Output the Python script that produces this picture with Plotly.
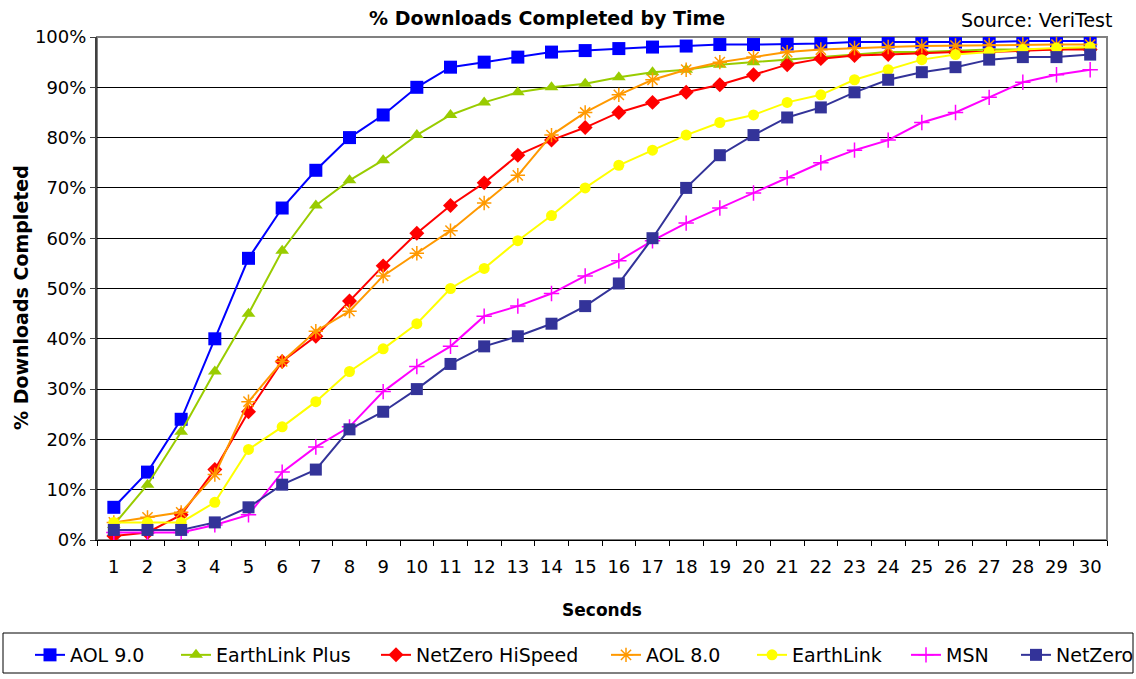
import plotly.graph_objects as go

seconds = list(range(1, 31))
series_names = ["AOL 9.0", "EarthLink Plus", "NetZero HiSpeed", "AOL 8.0", "EarthLink", "MSN", "NetZero"]

aol9 = [6.5, 13.5, 24, 40, 56, 66, 73.5, 80, 84.5, 90, 94, 95, 96, 97, 97.3, 97.7, 98, 98.2, 98.5, 98.5,
        98.6, 98.7, 99, 99, 99, 99, 99, 99.2, 99.2, 99.2]
earthlink_plus = [3, 11, 21.5, 33.5, 45, 57.5, 66.5, 71.5, 75.5, 80.5, 84.5, 87, 89, 90, 90.7, 92, 93, 93.5, 94.5, 95,
                  95.5, 96, 96.5, 97, 97, 97.2, 97.5, 97.5, 97.5, 97.8]
netzero_hispeed = [0.8, 1.5, 5, 14, 25.5, 35.5, 40.5, 47.5, 54.5, 61, 66.5, 71, 76.5, 79.5, 82, 85, 87, 89, 90.5, 92.5,
                   94.5, 95.7, 96.3, 96.5, 96.8, 97, 97, 97.2, 97.5, 97.5]
aol8 = [3.5, 4.5, 5.5, 13, 27.5, 35.5, 41.5, 45.5, 52.5, 57, 61.5, 67, 72.5, 80.5, 85, 88.5, 91.5, 93.5, 95, 96,
        97, 97.5, 97.8, 98, 98.2, 98.3, 98.4, 98.5, 98.5, 98.5]
earthlink = [3.5, 3.5, 3.5, 7.5, 18, 22.5, 27.5, 33.5, 38, 43, 50, 54, 59.5, 64.5, 70, 74.5, 77.5, 80.5, 83, 84.5,
             87, 88.5, 91.5, 93.5, 95.5, 96.5, 97, 97.5, 97.8, 98]
msn = [1.5, 1.5, 1.5, 3, 5, 13.5, 18.5, 22.5, 29.5, 34.5, 38.5, 44.5, 46.5, 49, 52.5, 55.5, 59.5, 63, 66, 69,
       72, 75, 77.5, 79.5, 83, 85, 88, 91, 92.5, 93.5]
netzero = [2, 2, 2, 3.5, 6.5, 11, 14, 22, 25.5, 30, 35, 38.5, 40.5, 43, 46.5, 51, 60, 70, 76.5, 80.5,
           84, 86, 89, 91.5, 93, 94, 95.5, 96, 96, 96.5]

all_values = [aol9, earthlink_plus, netzero_hispeed, aol8, earthlink, msn, netzero]
colors = ["#0000FF", "#99CC00", "#FF0000", "#FF9900", "#FFFF00", "#FF00FF", "#333399"]
symbols = ["square", "triangle-up", "diamond", "asterisk-open", "circle", "cross-thin-open", "square"]
sizes = [13, 12, 11.5, 12, 11, 11, 12]

FONT = "DejaVu Sans, Liberation Sans, Arial, sans-serif"

# layout geometry (pixels)
W, H = 1136, 679
ML, MR, MT, MB = 97, 29, 37, 139
PW = W - ML - MR
PH = H - MT - MB

def px_x(p):
    return (p - ML) / PW

def px_y(p):
    return (H - MB - p) / PH

legend_text_x = [69, 215, 415, 645, 791, 945, 1055]

fig = go.Figure()
for i, (name, vals) in enumerate(zip(series_names, all_values)):
    lname = "legend" if i == 0 else f"legend{i+1}"
    fig.add_trace(go.Scatter(
        x=seconds, y=vals, name=name, mode="lines+markers",
        line=dict(color=colors[i], width=2),
        marker=dict(symbol=symbols[i], size=sizes[i], color=colors[i],
                    line=dict(color=colors[i], width=1.5 if "open" in symbols[i] else 0)),
        legend=lname,
    ))

legend_font = dict(family=FONT, size=19, color="#000000")
layout_legends = {}
for i in range(7):
    lname = "legend" if i == 0 else f"legend{i+1}"
    layout_legends[lname] = dict(
        xref="container", yref="container",
        x=(legend_text_x[i] - 39) / W, xanchor="left",
        y=(H - 655) / H, yanchor="middle",
        orientation="h", font=legend_font, bgcolor="rgba(0,0,0,0)",
        borderwidth=0, itemwidth=30, tracegroupgap=0,
    )

fig.update_layout(
    width=W, height=H,
    margin=dict(l=ML, r=MR, t=MT, b=MB, autoexpand=False),
    paper_bgcolor="white", plot_bgcolor="white",
    font=dict(family=FONT, size=18, color="#000000"),
    showlegend=True,
    **layout_legends,
)

fig.update_xaxes(
    range=[0.5, 30.5], tickmode="array", tickvals=seconds, ticktext=[str(s) for s in seconds],
    ticks="outside", ticklen=10, tickcolor="rgba(0,0,0,0)",
    showgrid=False, showline=True, linecolor="#000000", linewidth=1,
    tickfont=dict(family=FONT, size=18),
    minor=dict(tickmode="array", tickvals=[s + 0.5 for s in range(0, 31)], ticks="outside",
               ticklen=5, tickcolor="#000000", showgrid=False),
    title=dict(text="<b>Seconds</b>", font=dict(family=FONT, size=17), standoff=28),
    zeroline=False, automargin=False,
)
fig.update_yaxes(
    range=[0, 100], tickmode="array", tickvals=list(range(0, 101, 10)),
    ticktext=[f"{v}%" for v in range(0, 101, 10)],
    ticks="outside", ticklen=5, tickcolor="#404040",
    showgrid=True, gridcolor="#000000", gridwidth=1,
    showline=True, linecolor="#404040", linewidth=2,
    tickfont=dict(family=FONT, size=18),
    zeroline=False, automargin=False,
)

# plot area border (gray, top and right)
fig.add_shape(type="rect", xref="paper", yref="paper", x0=0, x1=1, y0=0, y1=1,
              line=dict(color="#808080", width=2), layer="below")
# legend box
fig.add_shape(type="rect", xref="paper", yref="paper",
              x0=px_x(3), x1=px_x(1133), y0=px_y(673), y1=px_y(633),
              line=dict(color="#000000", width=1))

fig.add_annotation(text="<b>% Downloads Completed</b>", xref="paper", yref="paper",
                   x=px_x(21), y=px_y(298), xanchor="center", yanchor="middle", textangle=-90,
                   showarrow=False, font=dict(family=FONT, size=19))
fig.add_annotation(text="<b>% Downloads Completed by Time</b>", xref="paper", yref="paper",
                   x=px_x(547), y=px_y(18), xanchor="center", yanchor="middle",
                   showarrow=False, font=dict(family=FONT, size=19))
fig.add_annotation(text="Source: VeriTest", xref="paper", yref="paper",
                   x=px_x(1114), y=px_y(20), xanchor="right", yanchor="middle",
                   showarrow=False, font=dict(family=FONT, size=19))

fig.write_html("out.html")
